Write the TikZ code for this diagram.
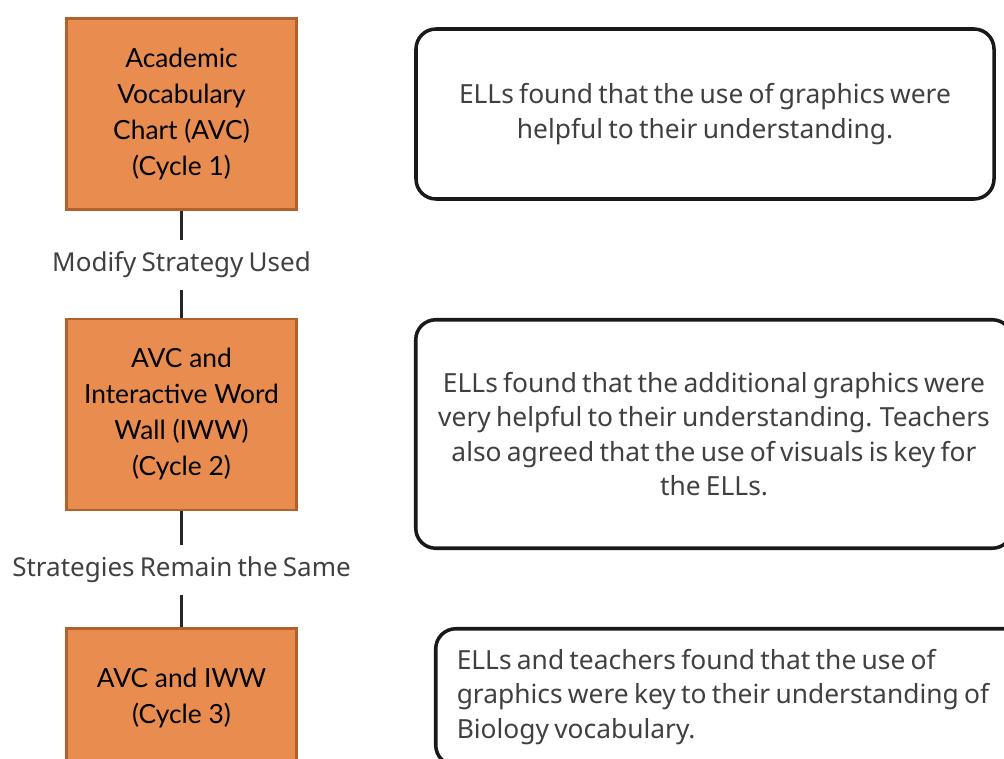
\documentclass[tikz,border=0pt]{standalone}
\usepackage{fontspec}
\setmainfont{Noto Sans}
\newfontfamily\cyclefont{Lato}
\usetikzlibrary{positioning}
\definecolor{cyclefill}{RGB}{233,140,80}
\definecolor{cycleedge}{RGB}{178,96,44}
\definecolor{notetext}{RGB}{64,64,64}

\newcommand{\tightwords}{\spaceskip=0.2em plus 0.05em\relax}

\tikzset{
    cyclebox/.style={draw=cycleedge, fill=cyclefill, line width=1.7pt,
        minimum width=46mm, minimum height=38.2mm, inner sep=0pt, align=center,
        font=\cyclefont\fontsize{15}{20.5}\selectfont},
    notebox/.style={draw=black!90, line width=2pt, rounded corners=4mm, text=notetext,
        inner sep=0pt, font=\fontsize{15}{19.5}\selectfont,
        execute at begin node=\tightwords},
    steplabel/.style={text=notetext, minimum height=9.8mm, inner sep=0pt,
        font=\fontsize{14.8}{17}\selectfont, execute at begin node=\tightwords},
    link/.style={line width=2.2pt, black!85}
}

\begin{document}
\begin{tikzpicture}[x=0.2mm, y=-0.2mm]
    \clip (0,0) rectangle (1004,759);

    % cycles
    \node (C1) [cyclebox] at (181.5,114) {Academic\\Vocabulary\\Chart (AVC)\\(Cycle 1)};
    \node (C2) [cyclebox] at (181.5,414.5) {AVC and\\Interactive Word\\Wall (IWW)\\(Cycle 2)};
    \node (C3) [cyclebox, minimum height=27.8mm] at (181.5,698) {AVC and IWW\\(Cycle 3)};

    % what happened between cycles
    \node (L1) [steplabel] at (181.5,265) {Modify Strategy Used};
    \node (L2) [steplabel] at (181.5,570) {Strategies Remain the Same};

    \draw[link] (C1) -- (L1);
    \draw[link] (L1) -- (C2);
    \draw[link] (C2) -- (L2);
    \draw[link] (L2) -- (C3);

    % findings
    \node (N1) [notebox, minimum width=115.6mm, minimum height=34mm, align=center] at (705,114)
        {ELLs found that the use of graphics were\\helpful to their understanding.};
    \node (N2) [notebox, minimum width=119.3mm, minimum height=45.7mm, align=center] at (714,434)
        {ELLs found that the additional graphics were\\very helpful to their understanding. Teachers\\also agreed that the use of visuals is key for\\the ELLs.};
    \node (N3) [notebox, minimum width=119.3mm, minimum height=27.3mm, inner xsep=4.2mm,
        text width=110.9mm, align=left] at (734,697)
        {ELLs and teachers found that the use of\\graphics were key to their understanding of\\Biology vocabulary.};
\end{tikzpicture}
\end{document}
